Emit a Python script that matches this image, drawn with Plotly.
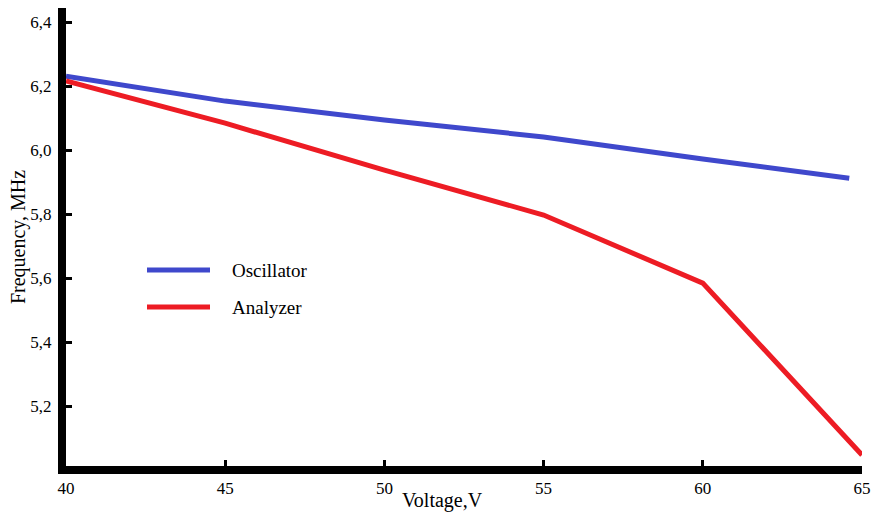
import plotly.graph_objects as go

voltage = [40, 45, 50, 55, 60, 65]
osc_x = [40, 45, 50, 55, 60, 64.6]
oscillator = [6.231, 6.153, 6.094, 6.041, 5.972, 5.912]
analyzer = [6.216, 6.084, 5.937, 5.797, 5.584, 5.047]
y_ticks = [5.2, 5.4, 5.6, 5.8, 6.0, 6.2, 6.4]
series_names = ["Oscillator", "Analyzer"]
series_colors = ["#3f48cc", "#ed1c24"]

font = "Times New Roman"
fig = go.Figure()
fig.add_trace(go.Scatter(x=osc_x, y=oscillator, mode="lines", name=series_names[0],
                         line=dict(color=series_colors[0], width=5)))
fig.add_trace(go.Scatter(x=voltage, y=analyzer, mode="lines", name=series_names[1],
                         line=dict(color=series_colors[1], width=5)))

# custom legend (long line samples like the reference)
L, W, B, H = 66, 796, 49, 458
for i, (nm, col) in enumerate(zip(series_names, series_colors)):
    ypx = 270 + 37 * i
    yp = (515 - B - ypx) / H
    fig.add_shape(type="line", xref="paper", yref="paper",
                  x0=(147 - L) / W, x1=(210 - L) / W, y0=yp, y1=yp,
                  line=dict(color=col, width=5))
    fig.add_annotation(text=nm, xref="paper", yref="paper", x=(230 - L) / W, y=yp,
                       xanchor="left", yanchor="middle", showarrow=False,
                       font=dict(family=font, size=19, color="black"))

fig.add_annotation(text="Voltage,V", xref="paper", yref="paper", x=(442 - L) / W, y=0,
                   yshift=-34, xanchor="center", yanchor="middle", showarrow=False,
                   font=dict(family=font, size=20, color="black"))

fig.update_layout(
    width=880, height=515,
    margin=dict(l=66, r=18, t=8, b=49),
    paper_bgcolor="white", plot_bgcolor="white",
    separators=",.",
    font=dict(family=font, size=17, color="black"),
    showlegend=False,
    xaxis=dict(range=[40, 65], tickvals=voltage, showgrid=False, zeroline=False,
               showline=True, linecolor="black", linewidth=8,
               tickfont=dict(family=font, size=17),
               ticks="inside", ticklen=6, tickwidth=3, tickcolor="black"),
    yaxis=dict(range=[5.0125, 6.444], tickvals=y_ticks, tickformat=".1f",
               showgrid=False, zeroline=False,
               showline=True, linecolor="black", linewidth=8,
               tickfont=dict(family=font, size=17),
               ticks="inside", ticklen=6, tickwidth=3, tickcolor="black",
               ticklabelstandoff=3,
               title=dict(text="Frequency, MHz", font=dict(family=font, size=20), standoff=2)),
)
fig.write_html("out.html")
